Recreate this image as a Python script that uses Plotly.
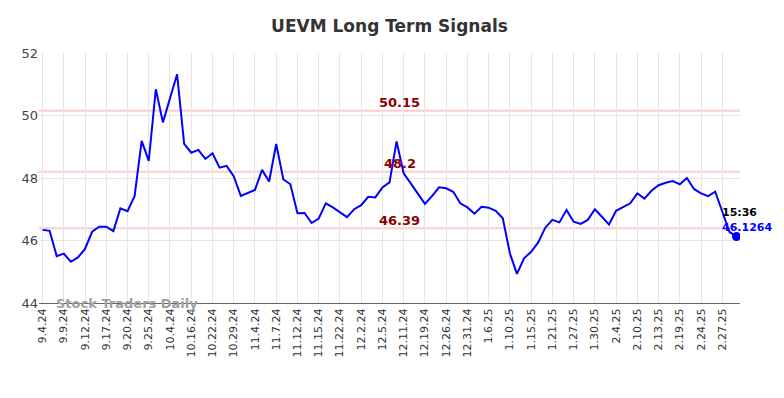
import plotly.graph_objects as go

tick_labels = ["9.4.24", "9.9.24", "9.12.24", "9.17.24", "9.20.24", "9.25.24", "10.4.24",
               "10.16.24", "10.22.24", "10.29.24", "11.4.24", "11.7.24", "11.12.24",
               "11.15.24", "11.22.24", "12.2.24", "12.5.24", "12.11.24", "12.19.24",
               "12.26.24", "12.31.24", "1.6.25", "1.10.25", "1.15.25", "1.21.25",
               "1.27.25", "1.30.25", "2.4.25", "2.10.25", "2.13.25", "2.19.25",
               "2.24.25", "2.27.25"]

prices = [46.34, 46.31, 45.50, 45.58, 45.32, 45.46, 45.73, 46.28, 46.44, 46.44,
          46.30, 47.03, 46.94, 47.42, 49.19, 48.55, 50.84, 49.78, 50.55, 51.32,
          49.09, 48.81, 48.90, 48.61, 48.79, 48.33, 48.39, 48.06, 47.43, 47.53,
          47.62, 48.26, 47.89, 49.09, 47.96, 47.80, 46.87, 46.88, 46.56, 46.70,
          47.19, 47.06, 46.90, 46.75, 47.00, 47.13, 47.40, 47.38, 47.70, 47.86,
          49.17, 48.15, 47.83, 47.51, 47.17, 47.42, 47.70, 47.67, 47.56, 47.19,
          47.06, 46.86, 47.08, 47.05, 46.95, 46.71, 45.59, 44.93, 45.43, 45.64,
          45.94, 46.41, 46.66, 46.58, 46.98, 46.60, 46.53, 46.66, 47.00, 46.76,
          46.51, 46.95, 47.08, 47.19, 47.51, 47.34, 47.59, 47.77, 47.85, 47.90,
          47.80, 48.00, 47.65, 47.51, 47.42, 47.56, 46.92, 46.28, 46.1264]

signal_levels = [50.15, 48.2, 46.39]
signal_texts = ["50.15", "48.2", "46.39"]
last_time = "15:36"
last_label = "46.1264"
tick_step = 3

x = list(range(len(prices)))
tickvals = [i * tick_step for i in range(len(tick_labels))]

fig = go.Figure()

for lvl in signal_levels:
    fig.add_shape(type="line", xref="x", yref="y", x0=-0.5, x1=len(prices) - 0.5,
                  y0=lvl, y1=lvl, line=dict(color="#ffcccc", width=2), layer="below")

fig.add_trace(go.Scatter(x=x, y=prices, mode="lines",
                         line=dict(color="#0000ff", width=2), hoverinfo="skip",
                         showlegend=False))
fig.add_trace(go.Scatter(x=[x[-1]], y=[prices[-1]], mode="markers",
                         marker=dict(color="#0000ff", size=9), showlegend=False))

mid = 50
for lvl, txt in zip(signal_levels, signal_texts):
    fig.add_annotation(x=mid, y=lvl, text="<b>" + txt + "</b>", showarrow=False,
                       yanchor="middle", yshift=8, xshift=3,
                       font=dict(family="DejaVu Sans", size=13, color="#8b0000"))

fig.add_annotation(x=x[-1], y=prices[-1], text="<b>" + last_time + "</b>", showarrow=False,
                   xanchor="left", yanchor="middle", yshift=24, xshift=-16,
                   font=dict(family="DejaVu Sans", size=11, color="#000000"))
fig.add_annotation(x=x[-1], y=prices[-1], text="<b>" + last_label + "</b>", showarrow=False,
                   xanchor="left", yanchor="middle", yshift=9, xshift=-16,
                   font=dict(family="DejaVu Sans", size=11, color="#0000ff"))

fig.add_annotation(xref="paper", yref="paper", x=0.021, y=0.0,
                   text="<b>Stock Traders Daily</b>",
                   showarrow=False, xanchor="left", yanchor="middle",
                   font=dict(family="DejaVu Sans", size=13, color="#a0a0a0"))

fig.update_layout(
    width=784, height=398,
    margin=dict(l=31, r=52, t=45, b=103),
    paper_bgcolor="white", plot_bgcolor="white",
    title=dict(text="<b>UEVM Long Term Signals</b>", x=0.5, xanchor="center",
               xref="paper", yref="container", y=1 - 18 / 398, yanchor="middle",
               font=dict(family="DejaVu Sans", size=17, color="#333333")),
    xaxis=dict(range=[-0.5, len(prices) - 0.5], tickmode="array", tickvals=tickvals,
               ticktext=tick_labels, tickangle=-90, showgrid=True, gridcolor="#e6e6e6",
               gridwidth=1, zeroline=False, showline=True, linecolor="#666666", linewidth=1,
               tickfont=dict(family="DejaVu Sans", size=11, color="#333333"), ticks=""),
    yaxis=dict(range=[44, 52], tickvals=[44, 46, 48, 50, 52], showgrid=True,
               gridcolor="#e6e6e6", gridwidth=1, zeroline=False, showline=False,
               tickfont=dict(family="DejaVu Sans", size=13, color="#444444"), ticks=""),
    showlegend=False,
)

fig.write_html("out.html")
